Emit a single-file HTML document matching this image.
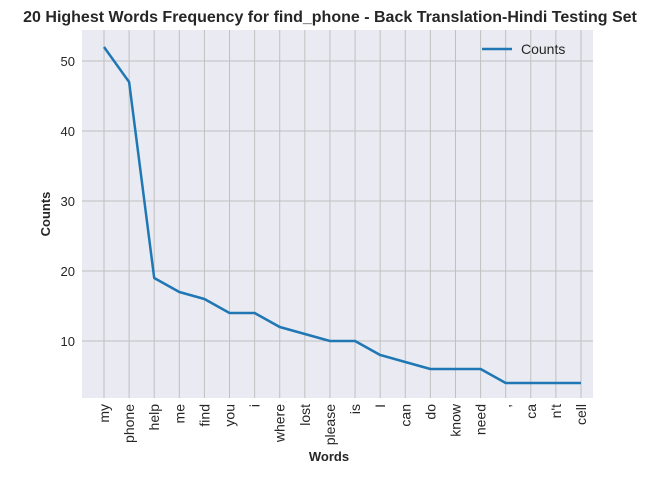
<!DOCTYPE html>
<html><head><style>
body{margin:0;background:#fff;font-family:"Liberation Sans",sans-serif;}
</style></head><body>
<svg width="659" height="475" xmlns="http://www.w3.org/2000/svg" font-family="Liberation Sans, sans-serif">
<text x="330" y="22" text-anchor="middle" font-size="16" font-weight="bold" fill="#262626">20 Highest Words Frequency for find_phone - Back Translation-Hindi Testing Set</text>
<rect x="82" y="30" width="511" height="368" fill="#eaeaf2"/>
<g id="grid"></g>
<g id="yt"></g>
<g id="xt"></g>
<polyline id="line" fill="none" stroke="#1f77b4" stroke-width="2.5" stroke-linejoin="round"/>
<text x="50" y="214" transform="rotate(-90 50 214)" text-anchor="middle" font-size="13" font-weight="bold" fill="#262626">Counts</text>
<text x="329" y="461" text-anchor="middle" font-size="13" font-weight="bold" fill="#262626">Words</text>
<g>
<line x1="482" y1="49" x2="512" y2="49" stroke="#1f77b4" stroke-width="2.5"/>
<text x="521" y="54" font-size="14" fill="#262626">Counts</text>
</g>
</svg>
<script>
const words=["my","phone","help","me","find","you","i","where","lost","please","is","I","can","do","know","need",",","ca","n't","cell"];
const counts=[52,47,19,17,16,14,14,12,11,10,10,8,7,6,6,6,4,4,4,4];
const yTicks=[10,20,30,40,50];
const NS="http://www.w3.org/2000/svg";
const xs=i=>104+i*(581-104)/(words.length-1);
const ys=v=>411-v*7;
const grid=document.getElementById('grid'),yt=document.getElementById('yt'),xt=document.getElementById('xt');
function mk(t,a,p){const e=document.createElementNS(NS,t);for(const k in a)e.setAttribute(k,a[k]);p.appendChild(e);return e;}
yTicks.forEach(v=>{
 const l=mk('line',{x1:82,x2:593,y1:ys(v),y2:ys(v),stroke:'#c0c0c0','stroke-width':1},grid);
 
 
 const t=mk('text',{x:75,y:ys(v)+5,'text-anchor':'end','font-size':13,fill:'#262626'},yt);
 t.textContent=v;
 
 
});
words.forEach((w,i)=>{
 const l=mk('line',{x1:xs(i),x2:xs(i),y1:30,y2:398,stroke:'#c0c0c0','stroke-width':1},grid);
 
 
 const t=mk('text',{x:0,y:0,'text-anchor':'end','font-size':14,fill:'#262626',transform:`translate(${xs(i)+5},404) rotate(-90)`},xt);
 t.textContent=w;
 
 
});
document.getElementById('line').setAttribute('points',counts.map((c,i)=>xs(i)+','+ys(c)).join(' '));
</script>
</body></html>
